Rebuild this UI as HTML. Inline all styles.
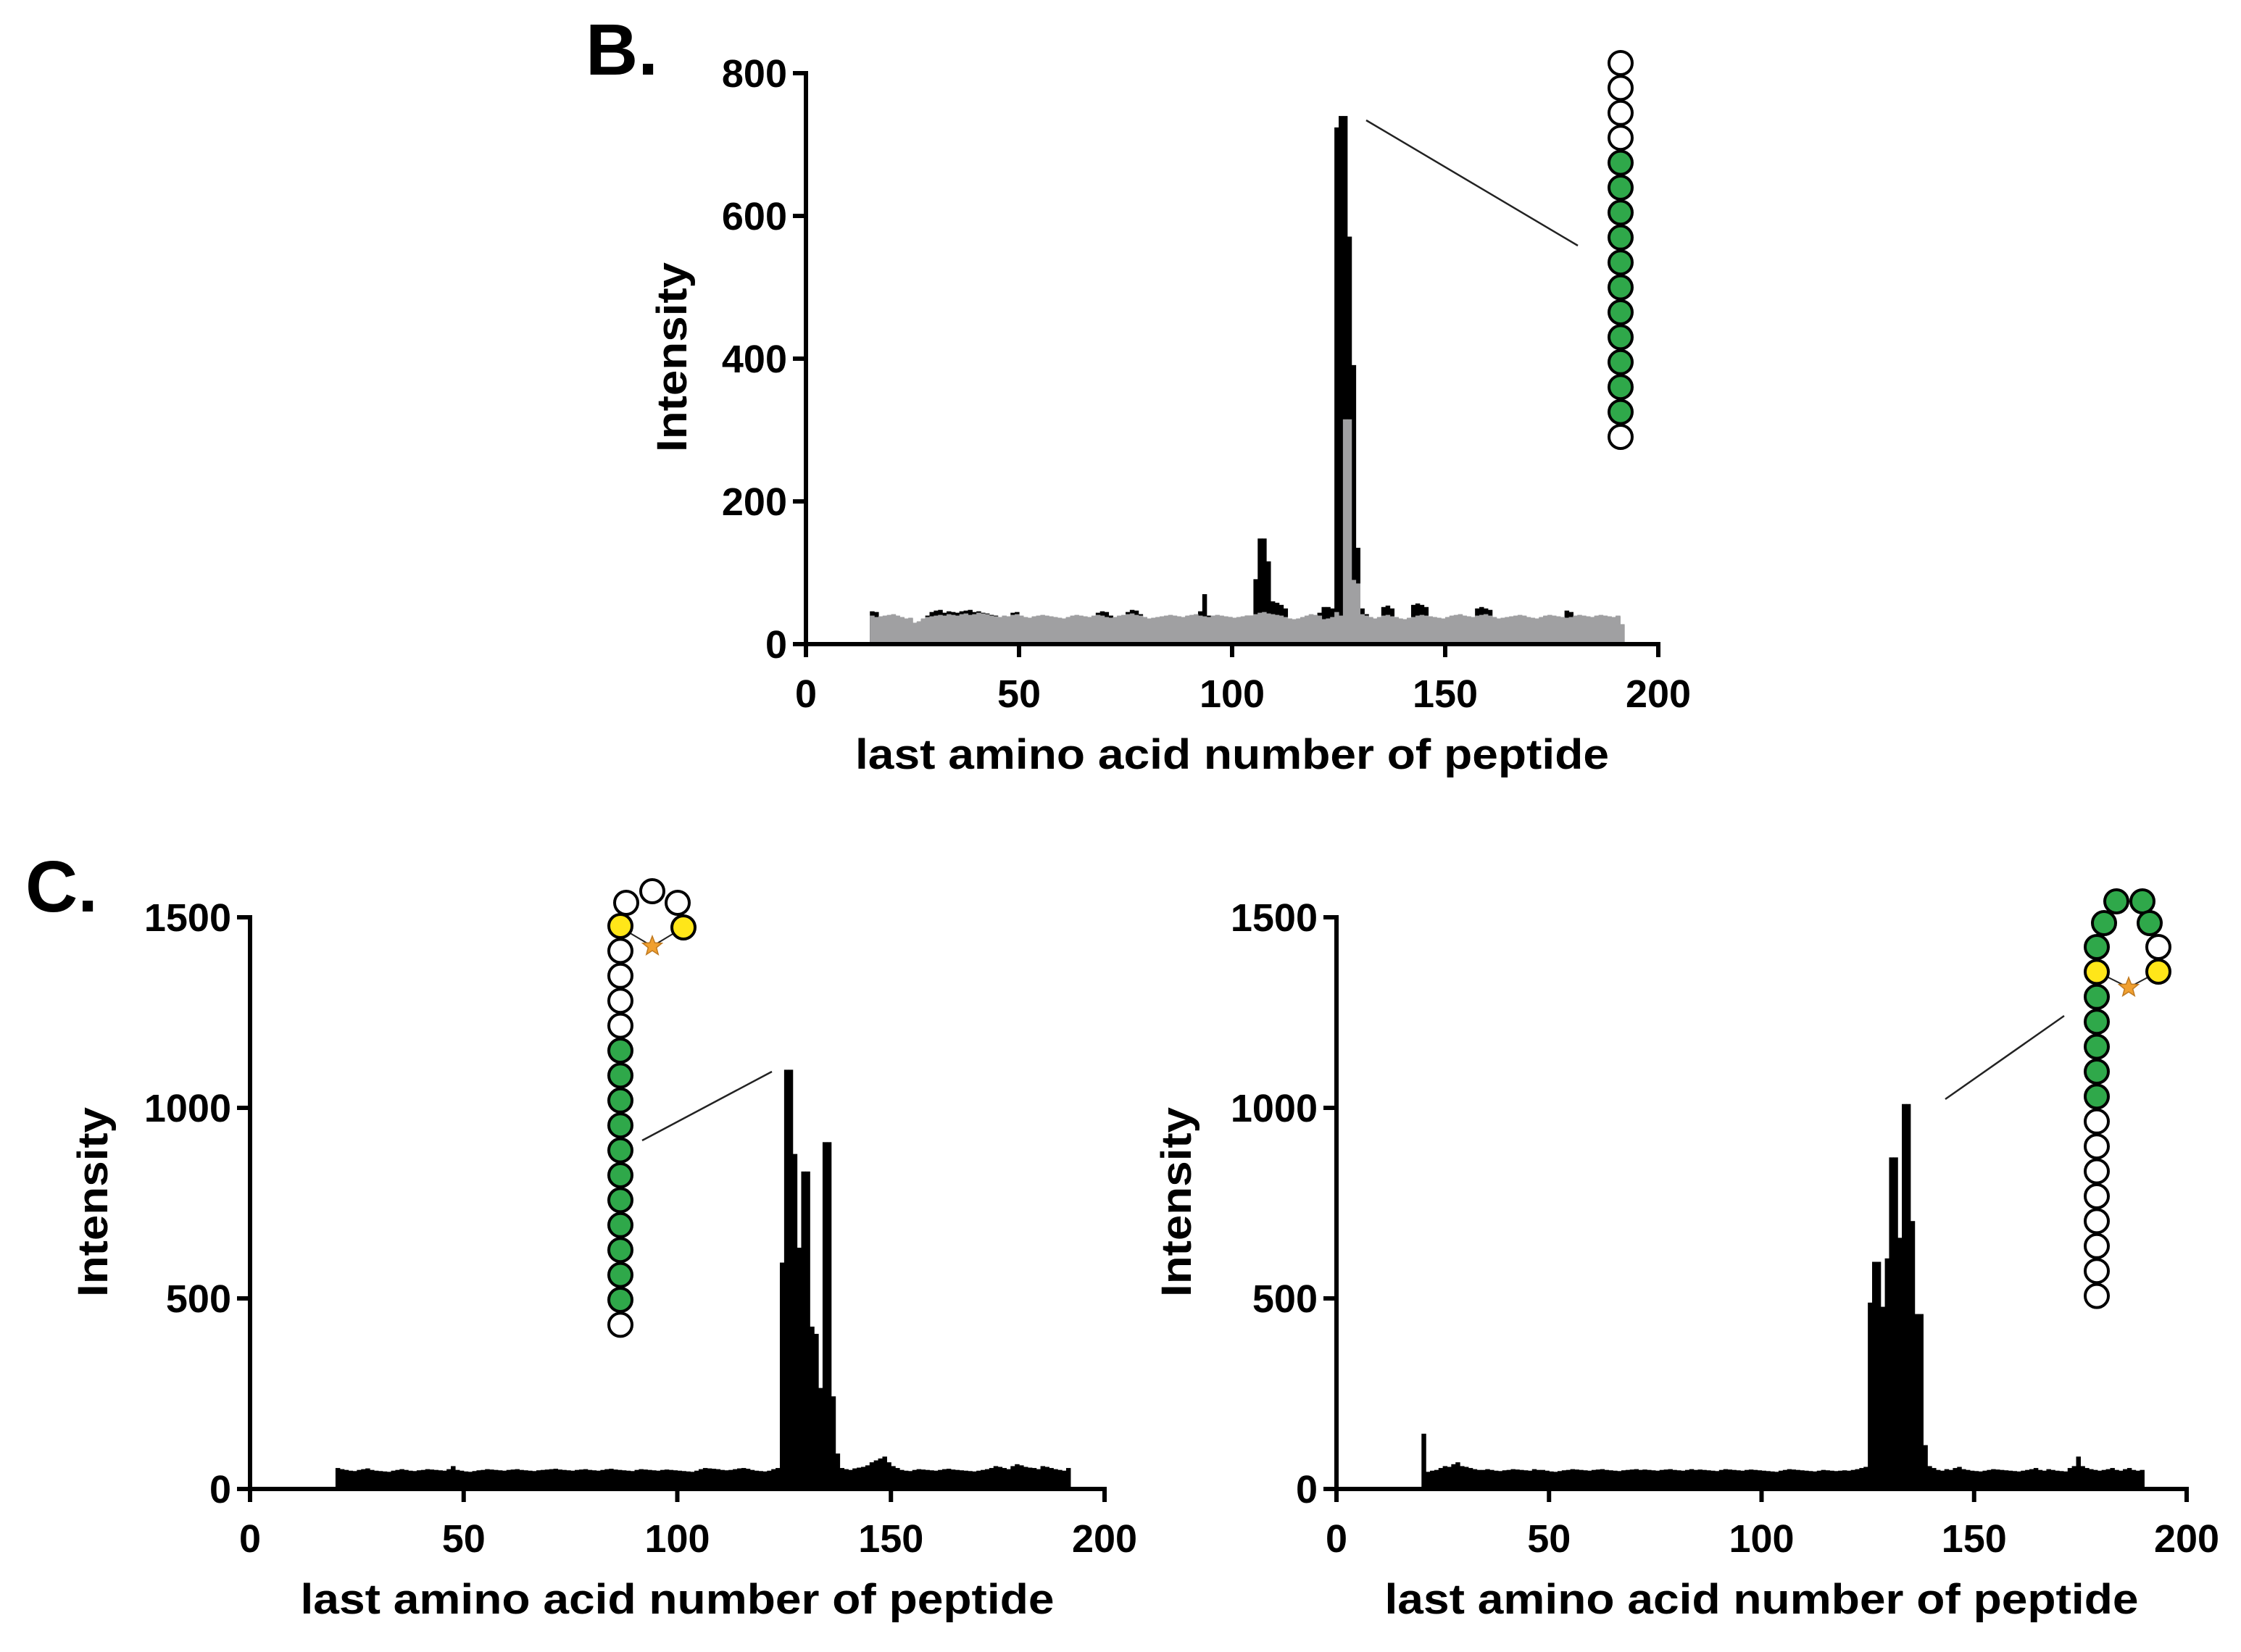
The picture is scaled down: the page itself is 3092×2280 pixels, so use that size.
<!DOCTYPE html>
<html><head><meta charset="utf-8"><style>
html,body{margin:0;padding:0;background:#fff}
svg{display:block}
text{font-family:"Liberation Sans",Arial,sans-serif;font-weight:bold;fill:#000}
</style></head>
<body>
<svg id="fig" width="3092" height="2280" viewBox="0 0 3092 2280" xmlns="http://www.w3.org/2000/svg">
<rect width="3092" height="2280" fill="#fff"/>
<text x="808" y="103" font-size="100">B.</text>
<text x="35" y="1258" font-size="100">C.</text>
</svg>
<script>
// ---- data ----
const bStart = 15;
const bGray = [40,38,39,40,41,42,40,38,36,37, 30,32,36,38,39,40,41,40,42,41, 40,42,43,41,42,44,43,42,40,39,
 38,40,39,41,42,40,38,37,39,40, 41,40,39,38,37,36,38,40,41,40, 39,38,40,41,40,38,37,38,40,41,
 42,43,41,40,38,36,37,38,39,40, 41,40,39,38,40,41,42,40,39,38, 40,41,40,39,38,37,38,39,40,40,
 42,44,45,43,42,41,40,38,36,35, 36,38,40,42,41,40,35,36,38,45, 40,315,315,90,85,42,40,38,36,38,
 40,41,39,38,36,35,37,38,40,41, 40,39,38,37,36,38,40,41,42,40, 39,38,40,41,42,40,38,36,37,38,
 39,40,41,40,38,37,36,38,40,41, 40,39,38,37,38,40,41,40,39,38, 40,41,40,39,38,40,28];
const bBlack = [46,45,38,39,40,41,38,37,35,36, 29,31,35,40,45,47,48,44,46,45, 44,46,47,48,45,46,44,43,41,40,
 37,39,38,44,45,39,37,36,38,39, 40,39,38,37,36,35,37,39,40,39, 38,37,39,44,46,45,40,37,39,40,
 45,48,47,42,37,35,36,37,38,39, 40,39,38,37,39,40,41,46,70,40, 39,40,39,38,38,36,37,38,40,40,
 91,148,148,116,60,58,55,50,35,34, 35,37,39,41,40,44,52,52,50,724, 740,740,571,391,135,50,42,37,35,37,
 52,54,50,37,35,34,36,55,57,55, 52,38,37,36,35,37,39,40,41,39, 38,37,50,52,50,48,37,35,36,37,
 38,39,40,39,37,36,35,37,39,40, 39,38,37,47,45,39,40,39,38,37, 39,40,39,38,37,39,27];
const cStart = 20;
const cLeft = [55,52,50,48,47,50,52,54,50,48, 47,46,45,48,50,52,50,48,47,49, 50,52,51,50,49,48,52,60,50,48,
 46,45,47,49,50,52,51,50,49,48, 50,51,52,50,49,48,47,49,50,51, 52,53,51,50,49,48,50,51,52,50,
 49,48,50,52,53,51,50,49,48,47, 50,52,51,50,49,48,50,51,50,49, 48,47,46,45,48,52,55,54,53,52,
 50,49,50,52,54,55,53,50,48,47, 46,48,52,55, 594,1100,1100,879,633,833,833,426,407,265,910,910,243,93,
 55,52,50,54,56,58,62,70,75,80, 85,70,60,55,50,48,47,50,52,51, 50,49,48,50,52,53,51,50,49,48,
 47,46,48,50,52,55,60,58,55,52, 60,65,62,58,56,55,52,60,58,55, 52,50,48,55];
const cRight = [145,45,48,50,55,60,58,65,70,60, 58,55,52,50,50,52,50,48,47,49, 50,52,51,50,49,48,52,50,50,48,
 46,45,47,49,50,52,51,50,49,48, 50,51,52,50,49,48,47,49,50,51, 52,50,51,50,49,48,50,51,52,50,
 49,48,50,52,50,51,50,49,48,47, 50,52,51,50,49,48,50,51,50,49, 48,47,46,45,48,50,52,51,50,49,
 48,47,46,48,50,49,48,47,48,49, 48,50,52,55,58, 489,596,596,478,605,870,870,659,1010,1010,703,459,459,115,
 60,55,50,48,52,50,55,58,52,50, 48,47,46,48,50,52,51,50,49,48, 47,46,48,50,52,55,50,48,52,50,
 48,47,46,55,60,85,60,55,52,50, 48,50,52,55,50,48,52,55,50,48,50];
const xTicks = [0,50,100,150,200];
const bYTicks = [0,200,400,600,800];
const cYTicks = [0,500,1000,1500];

// ---- drawing ----
const NS = "http://www.w3.org/2000/svg";
const svg = document.getElementById("fig");
function el(tag, attrs, parent){
  const e = document.createElementNS(NS, tag);
  for (const k in attrs) e.setAttribute(k, attrs[k]);
  (parent || svg).appendChild(e);
  return e;
}
function panel(p){
  const g = el("g", {});
  
  
  const sx = v => p.x0 + (v - 0) / 200 * (p.x1 - p.x0);
  const sy = v => p.y0 - v / p.ymax * (p.y0 - p.y1);
  p.series.forEach(s => {
    s.vals.forEach((v, i) => {
      const a = s.start + i;
      const r = el("rect", {x: sx(a), y: sy(v), width: sx(a + 1) - sx(a) + 0.6, height: p.y0 - sy(v), fill: s.color}, g);
      
      
    });
  });
  // axes
  const ya = el("line", {x1: p.x0, y1: p.y0 + 3, x2: p.x0, y2: p.y1 - 3, stroke: "#000", "stroke-width": 6}, g);
  
  
  const xa = el("line", {x1: p.x0 - 3, y1: p.y0, x2: p.x1 + 3, y2: p.y0, stroke: "#000", "stroke-width": 6}, g);
  
  
  p.yTicks.forEach(t => {
    el("line", {x1: p.x0 - 18, y1: sy(t), x2: p.x0, y2: sy(t), stroke: "#000", "stroke-width": 6}, g);
    const tx = el("text", {x: p.x0 - 26, y: sy(t) + 19, "font-size": 54, "text-anchor": "end"}, g);
    tx.textContent = t;
    
    
  });
  xTicks.forEach(t => {
    el("line", {x1: sx(t), y1: p.y0, x2: sx(t), y2: p.y0 + 18, stroke: "#000", "stroke-width": 6}, g);
    const tx = el("text", {x: sx(t), y: p.y0 + 87, "font-size": 54, "text-anchor": "middle"}, g);
    tx.textContent = t;
    
    
  });
  const xl = el("text", {x: (p.x0 + p.x1) / 2 + p.xlOff, y: p.y0 + 172, "font-size": 58, "text-anchor": "middle", textLength: 1040, lengthAdjust: "spacingAndGlyphs"}, g);
  xl.textContent = "last amino acid number of peptide";
  
  
  const yl = el("text", {x: 0, y: 0, "font-size": 58, "text-anchor": "middle", textLength: 262, lengthAdjust: "spacingAndGlyphs", transform: `translate(${p.ylx},${p.yly}) rotate(-90)`}, g);
  yl.textContent = "Intensity";
  
  
}
panel({name: "panel-b-chart", x0: 1112, x1: 2288, y0: 889, y1: 101, ymax: 800, yTicks: bYTicks, xlOff: 0, ylx: 947, yly: 493,
  series: [{label: "black", start: bStart, vals: bBlack, color: "#000"}, {label: "gray", start: bStart, vals: bGray, color: "#a0a0a2"}]});
panel({name: "panel-c-left-chart", x0: 345, x1: 1524, y0: 2055, y1: 1266, ymax: 1500, yTicks: cYTicks, xlOff: 0, ylx: 148, yly: 1659,
  series: [{label: "c-left", start: cStart, vals: cLeft, color: "#000"}]});
panel({name: "panel-c-right-chart", x0: 1844, x1: 3017, y0: 2055, y1: 1266, ymax: 1500, yTicks: cYTicks, xlOff: 0, ylx: 1643, yly: 1659,
  series: [{label: "c-right", start: cStart, vals: cRight, color: "#000"}]});

// ---- peptide diagrams ----
const GREEN = "#2fa84a", YEL = "#ffe619", WHITE = "#fff";
function bead(cx, cy, fill, name){
  const c = el("circle", {cx, cy, r: 16, fill, stroke: "#000", "stroke-width": 4});
  
  
}
function star(cx, cy){
  let pts = [];
  for (let i = 0; i < 10; i++){ const r = i % 2 ? 6 : 14; const a = -Math.PI/2 + i * Math.PI/5; pts.push((cx + r*Math.cos(a)).toFixed(1) + "," + (cy + r*Math.sin(a)).toFixed(1)); }
  const s = el("polygon", {points: pts.join(" "), fill: "#f0a030", stroke: "#c07a20", "stroke-width": 1.5});
  
  
}
function line(x1,y1,x2,y2,w,name){
  const l = el("line", {x1,y1,x2,y2, stroke: "#222", "stroke-width": w || 2.5});
  
  
}
// B diagram
line(1885,166,2177,339,2.5,'panel-b-pointer-line');
const bCol = ["w","w","w","w","g","g","g","g","g","g","g","g","g","g","g","w"];
bCol.forEach((c,i)=> bead(2236, 87 + i*34.4, c==="g"?GREEN:WHITE, 'panel-b-residue'));
// C left diagram
line(886,1574,1065,1479,2.5,'panel-c-left-pointer-line');
line(856,1280,900,1306,2,'crosslink-line');
line(943,1280,900,1306,2,'crosslink-line');
const clCol = ["y","w","w","w","w","g","g","g","g","g","g","g","g","g","g","g","w"];
clCol.forEach((c,i)=> bead(856, 1278 + i*34.4, c==="g"?GREEN:c==="y"?YEL:WHITE, 'panel-c-left-residue'));
bead(864,1246,WHITE,'panel-c-left-residue');
bead(900,1230,WHITE,'panel-c-left-residue');
bead(935,1246,WHITE,'panel-c-left-residue');
bead(943,1280,YEL,'panel-c-left-residue');
star(900,1306);
// C right diagram
line(2684,1517,2848,1402,2.5,'panel-c-right-pointer-line');
line(2893,1341,2937,1363,2,'crosslink-line');
line(2978,1341,2937,1363,2,'crosslink-line');
bead(2920,1244,GREEN,'panel-c-right-residue');
bead(2956,1244,GREEN,'panel-c-right-residue');
bead(2903,1274,GREEN,'panel-c-right-residue');
bead(2966,1274,GREEN,'panel-c-right-residue');
bead(2978,1307,WHITE,'panel-c-right-residue');
bead(2978,1341,YEL,'panel-c-right-residue');
const crCol = ["g","y","g","g","g","g","g","w","w","w","w","w","w","w","w"];
crCol.forEach((c,i)=> bead(2893, 1307 + i*34.4, c==="g"?GREEN:c==="y"?YEL:WHITE, 'panel-c-right-residue'));
star(2937,1363);
</script>
</body></html>
